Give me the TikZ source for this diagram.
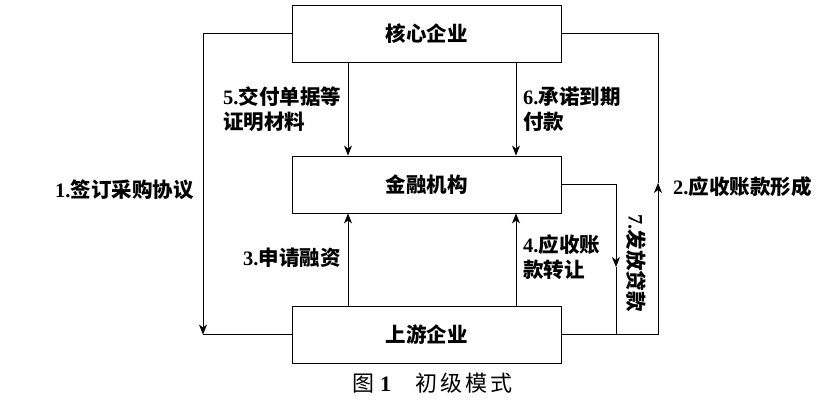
\documentclass[tikz,border=0pt]{standalone}
\usepackage{fontspec}
\setmainfont{Liberation Serif}
\newfontfamily\hei{Noto Sans CJK SC}
\usetikzlibrary{arrows.meta}
\newcommand\nb[1]{{\bfseries #1}}
\newcommand\hb[1]{{\hei\bfseries #1}}
\begin{document}
\begin{tikzpicture}[x=1pt,y=-1pt,
  every node/.style={font=\fontsize{20.5}{25}\selectfont},
  box/.style={draw,line width=0.9pt,minimum width=269pt,minimum height=57pt,inner sep=0pt},
  lbl/.style={inner sep=0pt,align=left},
  conn/.style={line width=0.7pt},
  arr/.style={conn,-{Stealth[length=10pt,width=8pt,inset=3pt]}}]
\useasboundingbox (0,0) rectangle (829,405);
\node[box] (top) at (426.5,33.5) {\hb{核心企业}};
\node[box] (mid) at (426.5,184.5) {\hb{金融机构}};
\node[box] (bot) at (426.5,334.5) {\hb{上游企业}};
% left loop (1)
\coordinate (lc) at (203,334.5);
\draw[arr] (top.west) -| (lc);
\draw[conn] (lc) -- (bot.west);
% right loop (2)
\coordinate (rc) at (658,334.5);
\coordinate (rm) at (658,183);
\draw[conn] (bot.east) -- (rc);
\draw[arr] (rc) -- (rm);
\draw[conn] (rm) -- (rc |- top.east) -- (top.east);
% line 7
\coordinate (m7) at (616,267);
\coordinate (j7) at (616,334.5);
\draw[arr] (mid.east) -| (m7);
\draw[conn] (m7) -- (j7);
% vertical arrows
\draw[arr] ([xshift=-78.5pt]top.south) -- ([xshift=-78.5pt]mid.north);
\draw[arr] ([xshift=89.5pt]top.south) -- ([xshift=89.5pt]mid.north);
\draw[arr] ([xshift=-78.5pt]bot.north) -- ([xshift=-78.5pt]mid.south);
\draw[arr] ([xshift=89.5pt]bot.north) -- ([xshift=89.5pt]mid.south);
% labels
\node[lbl,anchor=west] (l1) at (55,190) {\nb{1.}\hb{签订采购协议}};
\node[lbl,anchor=west] (l2) at (673,187) {\nb{2.}\hb{应收账款形成}};
\node[lbl,anchor=west] (l3) at (243,258) {\nb{3.}\hb{申请融资}};
\node[lbl,anchor=west] (l4) at (523,257.5) {\nb{4.}\hb{应收账}\\\hb{款转让}};
\node[lbl,anchor=west] (l5) at (223,109.5) {\nb{5.}\hb{交付单据等}\\\hb{证明材料}};
\node[lbl,anchor=west] (l6) at (523,109.5) {\nb{6.}\hb{承诺到期}\\\hb{付款}};
\node[lbl,rotate=-90] (l7) at (636.5,263) {\nb{7.}\hb{发放贷款}};
\node[lbl,anchor=west,font=\fontsize{22}{25}\selectfont] (cap) at (352,383) {{\hei 图}\kern6pt\nb{1}\kern24pt{\hei 初\kern3pt 级\kern3pt 模\kern3pt 式}};
\end{tikzpicture}
\end{document}
